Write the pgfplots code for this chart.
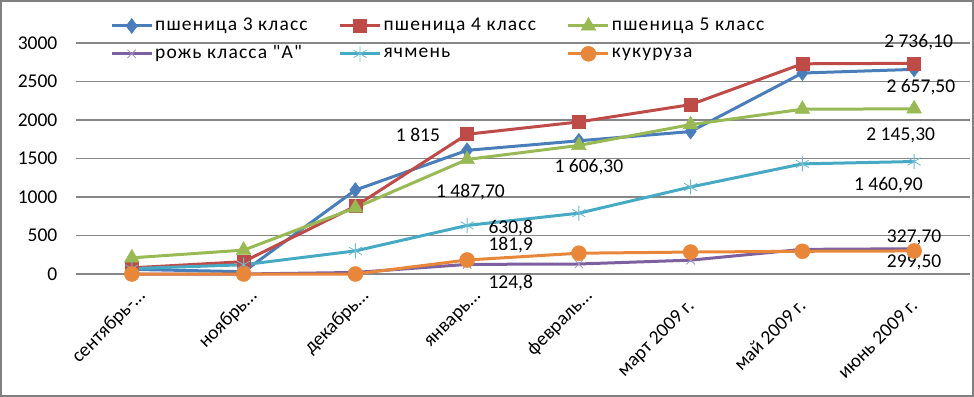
\documentclass[border=0pt]{standalone}
\usepackage{pgfplots}
\pgfplotsset{compat=1.18}
\usepackage{fontspec}
\setmainfont{Carlito}
\newfontfamily\cyr{Carlito}[LetterSpace=6]
\definecolor{cblue}{HTML}{4A7EBB}
\definecolor{cred}{HTML}{BE4B48}
\definecolor{cgreen}{HTML}{98B954}
\definecolor{cpurple}{HTML}{7D60A0}
\definecolor{ccyan}{HTML}{46AAC5}
\definecolor{corange}{HTML}{E8873A}
\definecolor{cgrid}{HTML}{868686}
\begin{document}
\fontsize{19.5bp}{23bp}\selectfont
\begin{tikzpicture}
\begin{axis}[name=ax, scale only axis, width=894bp, height=231bp,
 xmin=-0.5, xmax=7.5, ymin=0, ymax=3000,
 xtick={0,...,7},
 xticklabels={сентябрь-…, ноябрь…, декабрь…, январь…, февраль…, март 2009 г.\kern13.5bp, май 2009 г.\kern13.5bp, июнь 2009 г.\kern13.5bp},
 ytick={0,500,...,3000},
 ymajorgrids, grid style={draw=cgrid, line width=1.2bp},
 axis line style={draw=none}, major tick length=0pt,
 tick label style={font=\fontsize{19.5bp}{23bp}\selectfont},
 /pgf/number format/assume math mode=true, /pgf/number format/1000 sep={},
 yticklabel style={xshift=-12bp},
 xticklabel style={xshift=4bp, yshift=-13bp, rotate=45, anchor=north east, inner sep=0pt, text height=14bp},
 clip=false,
 legend columns=3,
 legend cell align=left,
 legend style={draw=none, fill=none, inner sep=0pt, at={(axis description cs:0,1)}, anchor=north west, xshift=34bp, yshift=27bp,
   font=\fontsize{19.5bp}{23bp}\cyr, nodes={inner sep=2bp},
   row sep=8bp,
   /tikz/every even column/.append style={column sep=29bp}},
 legend image code/.code={\draw[mark repeat=2,mark phase=2] plot coordinates {(0bp,0bp)(20bp,0bp)(40bp,0bp)};},
 every axis plot/.append style={line width=3bp},
]
\addplot[cblue, mark=diamond*, mark size=7.5bp, mark options={line width=0.5bp}] coordinates {(0,60)(1,30)(2,1090)(3,1606.3)(4,1730)(5,1850)(6,2610)(7,2657.5)};
\addlegendentry{пшеница 3 класс}
\addplot[cred, mark=square*, mark size=6.5bp, mark options={line width=0.5bp}] coordinates {(0,80)(1,160)(2,880)(3,1815)(4,1975)(5,2200)(6,2730)(7,2736.1)};
\addlegendentry{пшеница 4 класс}
\addplot[cgreen, mark=triangle*, mark size=8.5bp, mark options={line width=0.5bp}] coordinates {(0,210)(1,310)(2,860)(3,1487.7)(4,1670)(5,1940)(6,2140)(7,2145.3)};
\addlegendentry{пшеница 5 класс}
\addplot[cpurple, mark=x, mark size=6bp, mark options={line width=0.8bp, draw=cpurple!70!white}] coordinates {(0,0)(1,0)(2,20)(3,124.8)(4,130)(5,180)(6,320)(7,327.7)};
\addlegendentry{рожь класса "А"}
\addplot[ccyan, mark=asterisk, mark size=7.5bp, mark options={line width=0.8bp, draw=ccyan!80!white}] coordinates {(0,70)(1,120)(2,300)(3,630.8)(4,790)(5,1130)(6,1430)(7,1460.9)};
\addlegendentry{ячмень}
\addplot[corange, mark=*, mark size=7.5bp, mark options={line width=0.5bp}] coordinates {(0,0)(1,0)(2,0)(3,181.9)(4,270)(5,285)(6,295)(7,299.5)};
\addlegendentry{кукуруза}
\node at (axis cs:2.56,1806) {1~815};
\node at (axis cs:3.03,1065) {1~487,70};
\node at (axis cs:4.09,1390) {1~606,30};
\node at (axis cs:7.04,3014) {2~736,10};
\node at (axis cs:7.06,2429) {2~657,50};
\node at (axis cs:6.88,1806) {2~145,30};
\node at (axis cs:6.77,1156) {1~460,90};
\node at (axis cs:3.39,597) {630,8};
\node at (axis cs:3.39,377) {181,9};
\node at (axis cs:3.39,-117) {124,8};
\node at (axis cs:7.0,481) {327,70};
\node at (axis cs:7.0,156) {299,50};
\end{axis}
\draw[line width=2.5bp, color=gray] ([xshift=-74.75bp,yshift=-121.75bp]ax.south west) rectangle ([xshift=-74.75bp+971.5bp,yshift=-121.75bp+394.5bp]ax.south west);
\pgfresetboundingbox
\path[use as bounding box] ([xshift=-76bp,yshift=-123bp]ax.south west) rectangle ([xshift=898bp,yshift=274bp]ax.south west);
\end{tikzpicture}
\end{document}
